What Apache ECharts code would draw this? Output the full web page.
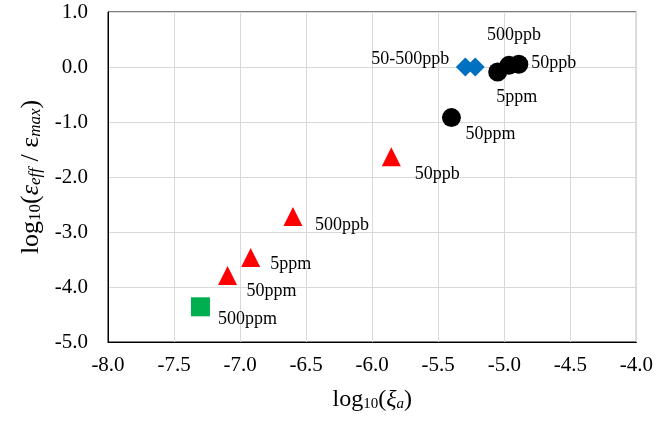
<!DOCTYPE html>
<html>
<head>
<meta charset="utf-8">
<script src="https://cdn.jsdelivr.net/npm/echarts@6/dist/echarts.min.js"></script>
<style>
html,body{margin:0;padding:0;background:#fff;}
#c{width:656px;height:422px;}
</style>
</head>
<body>
<div id="c"></div>
<script>
// ---- data ----
const circleX = [-5.40, -5.05, -4.965, -4.89];
const circleY = [-0.92, -0.09, 0.03, 0.05];
const circleLabels = ['50ppm', '5ppm', '500ppb', '50ppb'];

const diamondX = [-5.295, -5.22];
const diamondY = [0.0, 0.0];
const diamondLabels = ['50-500ppb', ''];

const triangleX = [-5.855, -6.60, -6.92, -7.095];
const triangleY = [-1.63, -2.72, -3.465, -3.79];
const triangleLabels = ['50ppb', '500ppb', '5ppm', '50ppm'];

const squareX = [-7.30];
const squareY = [-4.36];
const squareLabels = ['500ppm'];

const xTicks = [-8.0, -7.5, -7.0, -6.5, -6.0, -5.5, -5.0, -4.5, -4.0];
const yTicks = [-5.0, -4.0, -3.0, -2.0, -1.0, 0.0, 1.0];

// ---- label layout (pixel offsets from marker centre) ----
const circleOffsets = [[39, 17], [19, 25], [5, -30], [35, -1]];
const diamondOffsets = [[-55, -8], [0, 0]];
const triangleOffsets = [[46, 18], [49, 9], [40, 7], [44, 16]];
const squareOffsets = [[47, 12]];

const FONT = 'Liberation Serif, Times New Roman, serif';

function buildData(xs, ys, labels, offsets) {
  return xs.map((x, i) => ({
    value: [x, ys[i]],
    label: {
      show: labels[i] !== '',
      formatter: labels[i],
      position: 'inside',
      align: 'center',
      verticalAlign: 'middle',
      offset: offsets[i],
      color: '#000',
      opacity: 1,
      fontFamily: FONT,
      fontSize: 18
    }
  }));
}

const chart = echarts.init(document.getElementById('c'), null, {renderer: 'canvas'});

function richSet(main, subSize, subLH) {
  const sub = {fontFamily: FONT, fontSize: subSize, lineHeight: subLH, verticalAlign: 'bottom', color: '#000'};
  const nrm = {fontFamily: FONT, fontSize: main, lineHeight: main, verticalAlign: 'bottom', color: '#000'};
  return {
    n: nrm, s: sub,
    i: Object.assign({}, nrm, {fontStyle: 'italic'}),
    si: Object.assign({}, sub, {fontStyle: 'italic'})
  };
}

chart.setOption({
  animation: false,
  backgroundColor: '#fff',
  grid: {left: 108, right: 16, top: 12, bottom: 80, show: true, borderColor: '#000', borderWidth: 1},
  xAxis: {
    type: 'value',
    min: xTicks[0], max: xTicks[xTicks.length - 1], interval: 0.5,
    name: '{n|log}{s|10}{n|(}{i|ξ}{si|a}{n|)}',
    nameLocation: 'middle',
    nameGap: 46,
    nameTextStyle: {rich: richSet(24, 15, 10)},
    axisLine: {show: true, onZero: false, lineStyle: {color: '#000', width: 1}},
    axisTick: {show: false},
    axisLabel: {
      margin: 13, color: '#000', fontFamily: FONT, fontSize: 21,
      formatter: v => v.toFixed(1)
    },
    splitLine: {show: true, lineStyle: {color: '#d9d9d9', width: 1}}
  },
  yAxis: {
    type: 'value',
    min: yTicks[0], max: yTicks[yTicks.length - 1], interval: 1,
    name: '{n|log}{s|10}{n|(}{i|ε}{si|eff}{n| / ε}{si|max}{n|)}',
    nameLocation: 'middle',
    nameRotate: 90,
    nameGap: 64,
    nameTextStyle: {rich: richSet(26, 17, 11)},
    axisLine: {show: true, onZero: false, lineStyle: {color: '#000', width: 1}},
    axisTick: {show: false},
    axisLabel: {
      margin: 20, color: '#000', fontFamily: FONT, fontSize: 21,
      formatter: v => v.toFixed(1)
    },
    splitLine: {show: true, lineStyle: {color: '#d9d9d9', width: 1}}
  },
  series: [
    {
      type: 'scatter', symbol: 'triangle', symbolSize: 19,
      itemStyle: {color: '#ff0000', opacity: 1},
      data: buildData(triangleX, triangleY, triangleLabels, triangleOffsets)
    },
    {
      type: 'scatter', symbol: 'rect', symbolSize: 19,
      itemStyle: {color: '#00b050', opacity: 1},
      data: buildData(squareX, squareY, squareLabels, squareOffsets)
    },
    {
      type: 'scatter', symbol: 'diamond', symbolSize: 19,
      itemStyle: {color: '#0070c0', opacity: 1},
      data: buildData(diamondX, diamondY, diamondLabels, diamondOffsets)
    },
    {
      type: 'scatter', symbol: 'circle', symbolSize: 19,
      itemStyle: {color: '#000', opacity: 1},
      data: buildData(circleX, circleY, circleLabels, circleOffsets)
    }
  ]
});
</script>
</body>
</html>
